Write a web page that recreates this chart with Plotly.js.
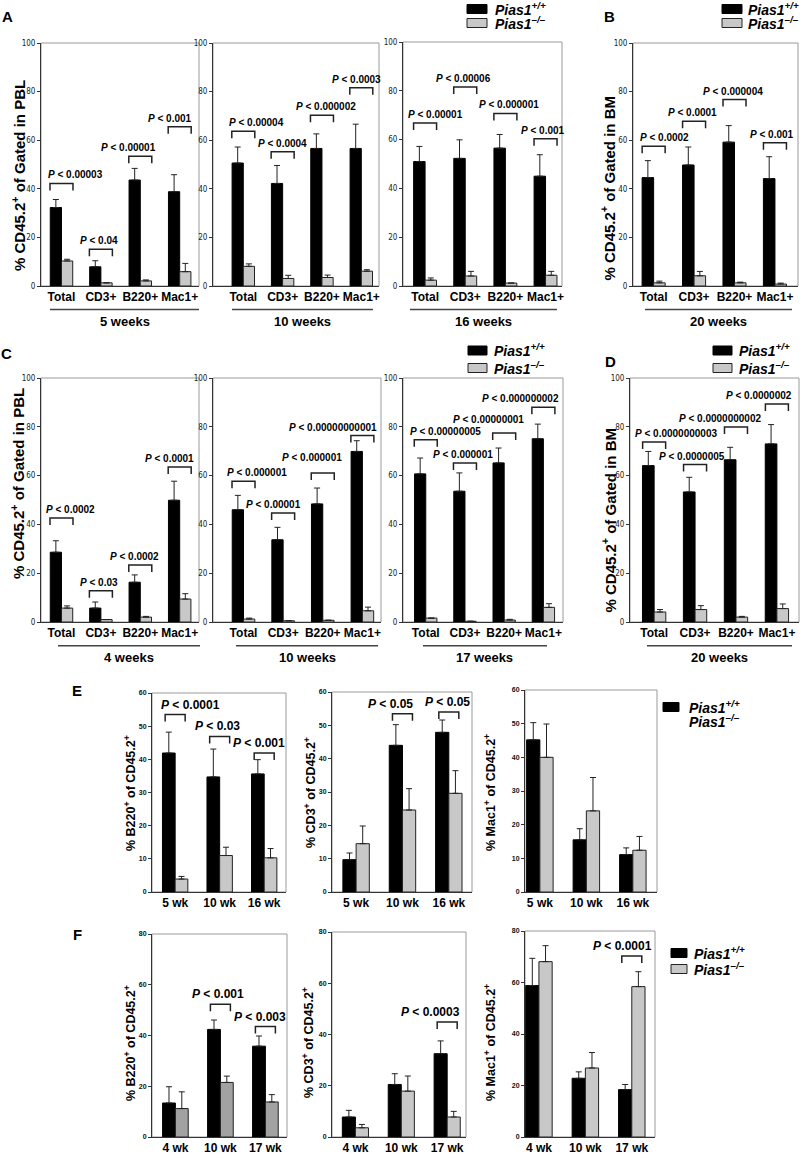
<!DOCTYPE html>
<html><head><meta charset="utf-8">
<script src="https://cdn.plot.ly/plotly-3.0.1.min.js"></script>
<style>body{margin:0;background:#fff}#chart{width:800px;height:1155px}</style>
</head><body><div id="chart"></div>
<script>
// ================= DATA =================
const catsCell = ['Total', 'CD3+', 'B220+', 'Mac1+'];
const catsE = ['5 wk', '10 wk', '16 wk'];
const catsF = ['4 wk', '10 wk', '17 wk'];
const weeksA = ['5 weeks', '10 weeks', '16 weeks', '20 weeks'];
const weeksC = ['4 weeks', '10 weeks', '17 weeks', '20 weeks'];

// A: PBL 5 weeks
const a5_wt = [32.3, 7.9, 43.6, 38.8];
const a5_wtSD = [3.3, 2.5, 4.8, 7.0];
const a5_ko = [10.3, 1.3, 2.1, 5.9];
const a5_koSD = [0.7, null, 0.4, 3.4];
const a5_brk = [42.2, 15.1, 53.4, 65.5];
const a5_p = ['0.00003', '0.04', '0.00001', '0.001'];
// A: PBL 10 weeks
const a10_wt = [50.6, 42.2, 56.6, 56.6];
const a10_wtSD = [6.6, 7.4, 6.0, 10.0];
const a10_ko = [8.1, 3.1, 3.5, 6.1];
const a10_koSD = [1.0, 1.3, 1.0, 0.6];
const a10_brk = [63.7, 55.2, 70.3, 81.6];
const a10_p = ['0.00004', '0.0004', '0.000002', '0.0003'];
// A: PBL 16 weeks
const a16_wt = [51.0, 52.3, 56.5, 45.0];
const a16_wtSD = [6.2, 7.6, 5.6, 8.8];
const a16_ko = [2.4, 4.1, 1.2, 4.4];
const a16_koSD = [0.9, 1.9, null, 1.6];
const a16_brk = [66.8, 81.6, 70.7, 60.3];
const a16_p = ['0.00001', '0.00006', '0.000001', '0.001'];
// B: BM 20 weeks
const b20_wt = [44.6, 49.8, 59.2, 44.2];
const b20_wtSD = [7.0, 7.4, 6.8, 9.0];
const b20_ko = [1.3, 4.2, 1.3, 0.8];
const b20_koSD = [0.7, 1.8, 0.3, 0.4];
const b20_brk = [57.5, 67.8, 76.7, 59.0];
const b20_p = ['0.0002', '0.0001', '0.000004', '0.001'];

// C: PBL 4 weeks
const c4_wt = [28.6, 5.7, 16.3, 49.9];
const c4_wtSD = [4.7, 2.5, 3.0, 7.8];
const c4_ko = [5.7, 1.0, 2.0, 9.4];
const c4_koSD = [0.9, null, 0.3, 2.2];
const c4_brk = [42.6, 12.8, 23.4, 63.5];
const c4_p = ['0.0002', '0.03', '0.0002', '0.0001'];
// C: PBL 10 weeks
const c10_wt = [46.0, 33.7, 48.4, 69.9];
const c10_wtSD = [5.9, 5.1, 6.5, 4.4];
const c10_ko = [1.2, 0.5, 0.7, 4.6];
const c10_koSD = [0.4, null, null, 1.5];
const c10_brk = [57.7, 44.7, 61.1, 76.4];
const c10_p = ['0.000001', '0.00001', '0.000001', '0.00000000001'];
// C: PBL 17 weeks
const c17_wt = [60.7, 53.6, 65.2, 75.1];
const c17_wtSD = [6.5, 7.5, 6.1, 6.0];
const c17_ko = [1.6, 0.3, 0.8, 6.0];
const c17_koSD = [null, null, 0.3, 1.5];
const c17_brk = [74.7, 65.2, 77.5, 88.0];
const c17_p = ['0.00000005', '0.000001', '0.00000001', '0.000000002'];
// D: BM 20 weeks
const d20_wt = [64.1, 53.3, 66.5, 73.0];
const d20_wtSD = [5.8, 6.0, 5.1, 7.9];
const d20_ko = [4.1, 5.1, 2.0, 5.5];
const d20_koSD = [1.0, 1.6, 0.3, 1.9];
const d20_brk = [73.8, 64.5, 79.9, 89.3];
const d20_p = ['0.0000000003', '0.0000005', '0.0000000002', '0.0000002'];

// E: % of CD45.2+
const eB_wt = [41.9, 34.7, 35.6];
const eB_wtSD = [6.3, 8.4, 4.3];
const eB_ko = [3.9, 11.0, 10.3];
const eB_koSD = [0.8, 2.5, 2.8];
const eB_brkIdx = [0, 1, 2];
const eB_brk = [53.5, 46.9, 41.9];
const eB_p = ['0.0001', '0.03', '0.001'];

const eT_wt = [9.7, 44.0, 47.9];
const eT_wtSD = [2.0, 6.2, 3.7];
const eT_ko = [14.5, 24.6, 29.6];
const eT_koSD = [5.3, 6.4, 6.8];
const eT_brkIdx = [1, 2];
const eT_brk = [53.5, 54.0];
const eT_p = ['0.05', '0.05'];

const eM_wt = [45.2, 15.5, 11.1];
const eM_wtSD = [5.1, 3.3, 2.0];
const eM_ko = [40.0, 24.1, 12.4];
const eM_koSD = [9.9, 9.9, 4.1];

// F: % of CD45.2+
const fB_wt = [13.4, 42.4, 35.8];
const fB_wtSD = [6.4, 3.7, 4.0];
const fB_ko = [11.2, 21.5, 13.8];
const fB_koSD = [6.6, 2.5, 2.9];
const fB_brkIdx = [1, 2];
const fB_brk = [52.3, 43.5];
const fB_p = ['0.001', '0.003'];

const fT_wt = [7.8, 20.5, 32.5];
const fT_wtSD = [2.6, 4.2, 5.0];
const fT_ko = [3.6, 17.9, 7.8];
const fT_koSD = [1.3, 5.9, 2.2];
const fT_brkIdx = [2];
const fT_brk = [44.9];
const fT_p = ['0.0003'];

const fM_wt = [58.8, 22.8, 18.4];
const fM_wtSD = [10.6, 2.5, 2.0];
const fM_ko = [68.1, 26.8, 58.4];
const fM_koSD = [6.2, 6.0, 5.8];
const fM_brkIdx = [2];
const fM_brk = [70.3];
const fM_p = ['0.0001'];

const titlePBL = '% CD45.2<sup>+</sup> of Gated in PBL';
const titleBM = '% CD45.2<sup>+</sup> of Gated in BM';
const titleB220 = '% B220<sup>+</sup> of CD45.2<sup>+</sup>';
const titleCD3 = '% CD3<sup>+</sup> of CD45.2<sup>+</sup>';
const titleMac1 = '% Mac1<sup>+</sup> of CD45.2<sup>+</sup>';
const wtName = '<i>Pias1<sup>+/+</sup></i>';
const koName = '<i>Pias1<sup>–/–</sup></i>';

// ================= LAYOUT CONFIG =================
const W = 800, H = 1155;
const FONT = 'Liberation Sans, Arial, Helvetica, sans-serif';
const NARROW = 'Liberation Sans Narrow, DejaVu Sans Condensed, Liberation Sans, Arial, sans-serif';
const GRAY = '#c8c8c8', DGRAY = '#a2a2a2';
const idx4 = [0, 1, 2, 3];

const panels = [
  {px:[41,199,43,286],  xr:[-0.52,3.49], ymax:100, dt:20, cats:catsCell, wt:a5_wt, wtSD:a5_wtSD, ko:a5_ko, koSD:a5_koSD, bi:idx4, brk:a5_brk, p:a5_p, sh:[14,-1.5,-11.7,-10]},
  {px:[213,379,43,286], xr:[-0.77,3.45], ymax:100, dt:20, cats:catsCell, wt:a10_wt, wtSD:a10_wtSD, ko:a10_ko, koSD:a10_koSD, bi:idx4, brk:a10_brk, p:a10_p, sh:[13,0,4,-4.5]},
  {px:[403,562,42,286], xr:[-0.55,3.41], ymax:100, dt:20, cats:catsCell, wt:a16_wt, wtSD:a16_wtSD, ko:a16_ko, koSD:a16_koSD, bi:idx4, brk:a16_brk, p:a16_p, sh:[10,-2,4,-3]},
  {px:[633,798,43,286], xr:[-0.51,3.57], ymax:100, dt:20, cats:catsCell, wt:b20_wt, wtSD:b20_wtSD, ko:b20_ko, koSD:b20_koSD, bi:idx4, brk:b20_brk, p:b20_p, sh:[10.5,-2,-2,-3]},
  {px:[41,199,378,622], xr:[-0.52,3.49], ymax:100, dt:20, cats:catsCell, wt:c4_wt, wtSD:c4_wtSD, ko:c4_ko, koSD:c4_koSD, bi:idx4, brk:c4_brk, p:c4_p, sh:[9.5,-2,-5.5,-10]},
  {px:[213,381,378,622], xr:[-0.77,3.47], ymax:100, dt:20, cats:catsCell, wt:c10_wt, wtSD:c10_wtSD, ko:c10_ko, koSD:c10_koSD, bi:idx4, brk:c10_brk, p:c10_p, sh:[13,-9.5,-10.5,-29], vs:[0,0,7,0]},
  {px:[403,563,378,622], xr:[-0.58,3.5], ymax:100, dt:20, cats:catsCell, wt:c17_wt, wtSD:c17_wtSD, ko:c17_ko, koSD:c17_koSD, bi:idx4, brk:c17_brk, p:c17_p, sh:[20,-2,-15.5,-23], vs:[0,0,5,0]},
  {px:[630,799,378,622], xr:[-0.59,3.54], ymax:100, dt:20, cats:catsCell, wt:d20_wt, wtSD:d20_wtSD, ko:d20_ko, koSD:d20_koSD, bi:idx4, brk:d20_brk, p:d20_p, sh:[21.5,-3.5,-15.5,-18]},
  {px:[152,286,693,892], xr:[-0.52,2.49], ymax:60, dt:10, cats:catsE, wt:eB_wt, wtSD:eB_wtSD, ko:eB_ko, koSD:eB_koSD, bi:eB_brkIdx, brk:eB_brk, p:eB_p, sh:[15.5,-2.5,-5], small:true},
  {px:[332,472,692,892], xr:[-0.52,2.5], ymax:60, dt:10, cats:catsE, wt:eT_wt, wtSD:eT_wtSD, ko:eT_ko, koSD:eT_koSD, bi:eT_brkIdx, brk:eT_brk, p:eT_p, sh:[-11.5,-1.5], small:true},
  {px:[525,657,690,892], xr:[-0.32,2.52], ymax:60, dt:10, cats:catsE, wt:eM_wt, wtSD:eM_wtSD, ko:eM_ko, koSD:eM_koSD, bi:[], brk:[], p:[], sh:[], small:true},
  {px:[152,287,934,1137], xr:[-0.52,2.48], ymax:80, dt:20, cats:catsF, wt:fB_wt, wtSD:fB_wtSD, ko:fB_ko, koSD:fB_koSD, bi:fB_brkIdx, brk:fB_brk, p:fB_p, sh:[-2,-5.5], small:true, koColor:DGRAY},
  {px:[332,466,932,1137], xr:[-0.51,2.41], ymax:80, dt:20, cats:catsF, wt:fT_wt, wtSD:fT_wtSD, ko:fT_ko, koSD:fT_koSD, bi:fT_brkIdx, brk:fT_brk, p:fT_p, sh:[-17], small:true},
  {px:[525,655,931,1137], xr:[-0.3,2.5], ymax:80, dt:20, cats:catsF, wt:fM_wt, wtSD:fM_wtSD, ko:fM_ko, koSD:fM_koSD, bi:fM_brkIdx, brk:fM_brk, p:fM_p, sh:[-9.5], small:true}
];

const yTitles = [
  {t:titlePBL, x:18, y:176, s:15}, {t:titleBM, x:607.5, y:188, s:15},
  {t:titlePBL, x:17, y:484, s:15}, {t:titleBM, x:608.5, y:520, s:15},
  {t:titleB220, x:130, y:793, s:12.5}, {t:titleCD3, x:310, y:793, s:12.5}, {t:titleMac1, x:490, y:793, s:12.5},
  {t:titleB220, x:130, y:1043, s:12.5}, {t:titleCD3, x:308, y:1043, s:12.5}, {t:titleMac1, x:490, y:1043, s:12.5}
];
const weekGroups = [
  {labels:weeksA, y:309.5, ly:321, segs:[[50,199],[232,373],[410,557],[645,792]]},
  {labels:weeksC, y:645.7, ly:657, segs:[[58,200],[236,378],[423,547],[647,792]]}
];
const legends = [
  {sx:467, tx:493, y1:9, y2:23, sw:20},
  {sx:722, tx:746, y1:9, y2:23, sw:20},
  {sx:468, tx:492, y1:350.5, y2:368, sw:19},
  {sx:713, tx:737, y1:350.5, y2:368, sw:19},
  {sx:663, tx:687, y1:707, y2:721, sw:16, noKoSwatch:true},
  {sx:671, tx:692, y1:953, y2:969, sw:16}
];
const letters = [['A',7,17],['B',609,16],['C',6,353],['D',610,362],['E',77,690],['F',77,934]];

// ================= BUILD =================
const px2x = v => v / W, px2y = v => 1 - v / H;
const data = [], shapes = [], annotations = [];
const layout = {
  width: W, height: H, margin:{l:0,r:0,t:0,b:0}, paper_bgcolor:'#fff', plot_bgcolor:'#fff',
  showlegend:false, barmode:'group', bargap:0.43, bargroupgap:0, font:{family:FONT, color:'#000'}
};

panels.forEach((P, i) => {
  const n = i + 1, sfx = n > 1 ? n : '';
  const xa = 'x' + sfx, ya = 'y' + sfx;
  const xv = P.cats.map((c, j) => j);
  const errStyle = {type:'data', symmetric:false, color:'#222', thickness:1, width:3};
  data.push({type:'bar', x:xv, y:P.wt, xaxis:xa, yaxis:ya, hoverinfo:'skip',
    marker:{color:'#000', line:{color:'#000', width:1}},
    error_y:Object.assign({array:P.wtSD, arrayminus:P.wtSD.map(() => 0)}, errStyle)});
  data.push({type:'bar', x:xv, y:P.ko, xaxis:xa, yaxis:ya, hoverinfo:'skip',
    marker:{color:P.koColor || GRAY, line:{color:'#222', width:1}},
    error_y:Object.assign({array:P.koSD, arrayminus:P.koSD.map(() => 0)}, errStyle)});

  layout['xaxis' + sfx] = {domain:[px2x(P.px[0]), px2x(P.px[1])], range:P.xr, anchor:ya,
    tickmode:'array', tickvals:xv, ticktext:P.cats, ticks:'', showline:true, linecolor:'#333', linewidth:1,
    showgrid:false, zeroline:false, fixedrange:true,
    tickfont:{family:FONT, size:12, weight:'bold', color:'#000'}};
  layout['yaxis' + sfx] = {domain:[px2y(P.px[3]), px2y(P.px[2])], range:[0, P.ymax], anchor:xa,
    tick0:0, dtick:P.dt, ticks:'outside', ticklen:3, tickcolor:'#333', showline:true, linecolor:'#333', linewidth:1,
    showgrid:false, zeroline:false, fixedrange:true,
    tickfont:P.small ? {family:FONT, size:7, weight:'bold', color:'#111'} : {family:NARROW, size:8, color:'#222'}};

  shapes.push({type:'rect', xref:xa + ' domain', yref:ya + ' domain', x0:0, x1:1, y0:0, y1:1,
    line:{color:'#9a9a9a', width:1}, layer:'below'});

  const hw = (P.small ? 10 : 11.5) * (P.xr[1] - P.xr[0]) / (P.px[1] - P.px[0]);
  const tk = 7 * P.ymax / (P.px[3] - P.px[2]);
  P.bi.forEach((ci, k) => {
    const y = P.brk[k];
    shapes.push({type:'path', xref:xa, yref:ya,
      path:`M${ci - hw},${y - tk}L${ci - hw},${y}L${ci + hw},${y}L${ci + hw},${y - tk}`,
      line:{color:'#222', width:1.5}});
    annotations.push({xref:xa, yref:ya, x:ci, y:y, xanchor:'center', yanchor:'bottom',
      xshift:P.sh[k], yshift:1 + (P.vs ? P.vs[k] : 0), showarrow:false, text:'<i>P</i> &lt; ' + P.p[k],
      font:{family:FONT, size:P.small ? 12 : 10, weight:'bold', color:'#000'}});
  });
});

yTitles.forEach(t => annotations.push({xref:'paper', yref:'paper', x:px2x(t.x), y:px2y(t.y),
  xanchor:'center', yanchor:'middle', textangle:-90, showarrow:false, text:t.t,
  font:{family:FONT, size:t.s, weight:'bold', color:'#000'}}));

weekGroups.forEach(g => g.segs.forEach((s, k) => {
  shapes.push({type:'line', xref:'paper', yref:'paper', x0:px2x(s[0]), x1:px2x(s[1]), y0:px2y(g.y), y1:px2y(g.y),
    line:{color:'#444', width:1.5}});
  annotations.push({xref:'paper', yref:'paper', x:px2x((s[0] + s[1]) / 2), y:px2y(g.ly), xanchor:'center', yanchor:'middle',
    showarrow:false, text:g.labels[k], font:{family:FONT, size:13, weight:'bold', color:'#000'}});
}));

legends.forEach(L => {
  const hh = 4.5;
  shapes.push({type:'rect', xref:'paper', yref:'paper', x0:px2x(L.sx), x1:px2x(L.sx + L.sw),
    y0:px2y(L.y1 + hh), y1:px2y(L.y1 - hh), fillcolor:'#000', line:{color:'#000', width:1}});
  if (!L.noKoSwatch) shapes.push({type:'rect', xref:'paper', yref:'paper', x0:px2x(L.sx), x1:px2x(L.sx + L.sw),
    y0:px2y(L.y2 + hh), y1:px2y(L.y2 - hh), fillcolor:GRAY, line:{color:'#222', width:1}});
  [[wtName, L.y1], [koName, L.y2]].forEach(([t, y]) => annotations.push({xref:'paper', yref:'paper',
    x:px2x(L.tx), y:px2y(y), xanchor:'left', yanchor:'middle', showarrow:false, text:t,
    font:{family:FONT, size:14, weight:'bold', color:'#000'}}));
});

letters.forEach(([t, x, y]) => annotations.push({xref:'paper', yref:'paper', x:px2x(x), y:px2y(y),
  xanchor:'center', yanchor:'middle', showarrow:false, text:t, font:{family:FONT, size:15, weight:'bold', color:'#000'}}));

layout.shapes = shapes;
layout.annotations = annotations;
Plotly.newPlot('chart', data, layout, {staticPlot:true, displayModeBar:false});
</script></body></html>
